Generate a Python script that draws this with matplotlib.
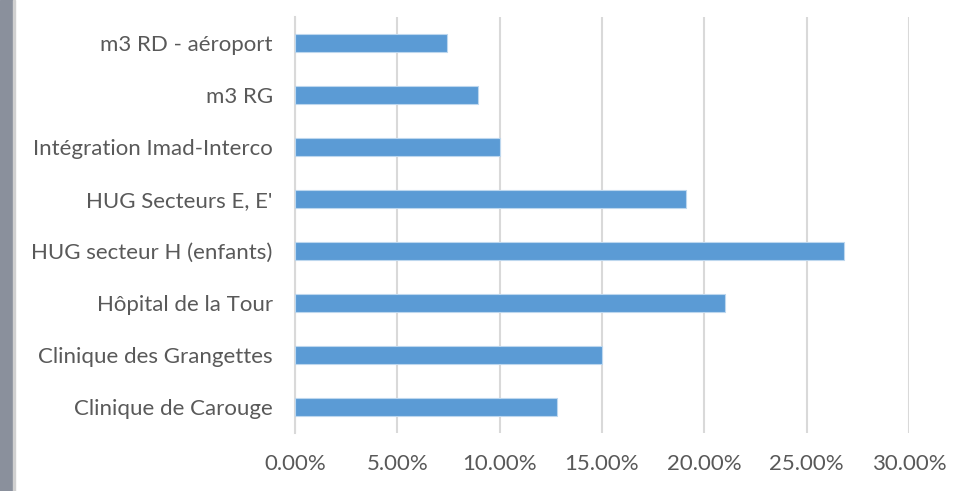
import matplotlib
matplotlib.use("Agg")
import matplotlib.pyplot as plt
from matplotlib.ticker import FuncFormatter
from matplotlib.patches import Rectangle

categories = ["Clinique de Carouge", "Clinique des Grangettes", "Hôpital de la Tour",
              "HUG secteur H (enfants)", "HUG Secteurs E, E'", "Intégration Imad-Interco",
              "m3 RG", "m3 RD - aéroport"]
values = [0.128, 0.150, 0.210, 0.268, 0.191, 0.100, 0.0895, 0.0745]
xticks = [0.0, 0.05, 0.10, 0.15, 0.20, 0.25, 0.30]

plt.rcParams['font.family'] = ['Lato', 'DejaVu Sans']
W, H = 973, 491
fig = plt.figure(figsize=(W/100, H/100), dpi=100)
ax = fig.add_axes([295/W, 1-433/H, (909-295)/W, (433-17)/H])

ax.barh(range(len(categories)), values, height=0.35, color="#5B9BD5",
        edgecolor="#BDD7EE", linewidth=0.8, zorder=3)
ax.set_xlim(0, 0.30)
ax.set_ylim(-0.5, len(categories)-0.5)
ax.set_xticks(xticks)
ax.xaxis.set_major_formatter(FuncFormatter(lambda v, p: f"{v*100:.2f}%"))
ax.set_yticks(range(len(categories)))
ax.set_yticklabels(categories)
ax.grid(axis="x", color="#D9D9D9", linewidth=1.5, zorder=0)
for s in ["top", "right", "bottom"]:
    ax.spines[s].set_visible(False)
ax.spines["left"].set_color("#D9D9D9")
ax.spines["left"].set_linewidth(1.5)
ax.tick_params(axis="both", length=0, labelsize=16, labelcolor="#595959")
ax.tick_params(axis="y", pad=16)
ax.tick_params(axis="x", pad=15)

# left grey strip (window frame)
fig.patches.append(Rectangle((0, 0), 13/W, 1, transform=fig.transFigure,
                             color="#8A909C", zorder=0))
fig.patches.append(Rectangle((13/W, 0), 1.5/W, 1, transform=fig.transFigure,
                             color="#D0D0D0", zorder=0))

fig.savefig("out.png", dpi=100)
